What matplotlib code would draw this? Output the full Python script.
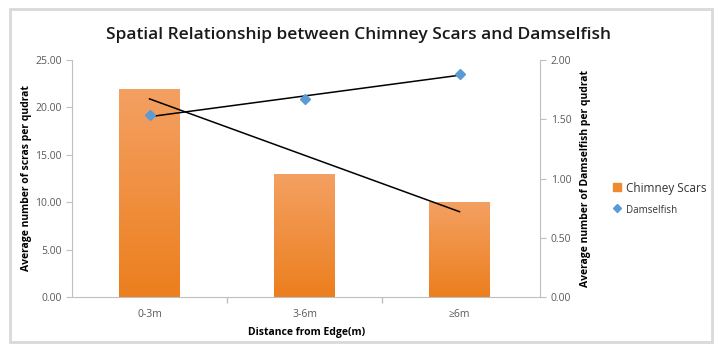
import numpy as np
import matplotlib.pyplot as plt
from matplotlib.patches import Rectangle
from matplotlib.lines import Line2D
from matplotlib.colors import LinearSegmentedColormap

# data
categories = ["0-3m", "3-6m", "\u22656m"]
scars = [21.9, 12.95, 10.0]
damselfish = [1.535, 1.67, 1.885]

x = np.arange(len(categories))

plt.rcParams['font.family'] = ['Open Sans', 'DejaVu Sans']

fig = plt.figure(figsize=(7.18, 3.49), dpi=100)
fig.patches.append(Rectangle((0.014, 0.02), 0.978, 0.955, transform=fig.transFigure,
                             fill=False, edgecolor='#d9d9d9', linewidth=2))

ax = fig.add_axes([0.1003, 0.149, 0.652, 0.679])
ax2 = ax.twinx()

# bars with a vertical gradient
bars = ax.bar(x, scars, width=0.39, color='#f08a30', zorder=1)
grad = np.linspace(0, 1, 100).reshape(-1, 1)
cmap = LinearSegmentedColormap.from_list('o', ['#ec7f1e', '#f4a062'])
for b in bars:
    bx, bw, bh = b.get_x(), b.get_width(), b.get_height()
    im = ax.imshow(grad, cmap=cmap, aspect='auto', origin='lower',
                   extent=(bx, bx + bw, 0, bh), zorder=1)
    im.set_clip_path(b)
    b.set_alpha(0)

# linear trend for scars
p = np.polyfit(x, scars, 1)
ax.plot([x[0], x[-1]], np.polyval(p, [x[0], x[-1]]), color='black', lw=1.1, zorder=3)

# damselfish points and trend
ax2.plot(x, damselfish, linestyle='none', marker='D', markersize=5,
         color='#5b9bd5', zorder=4)
q = np.polyfit(x, damselfish, 1)
ax2.plot([x[0], x[-1]], np.polyval(q, [x[0], x[-1]]), color='black', lw=1.1, zorder=3)

ax.set_xlim(-0.5, 2.52)
ax.set_ylim(0, 25)
ax2.set_ylim(0, 2)
ax.set_yticks(np.arange(0, 26, 5))
ax.set_yticklabels([f"{v:.2f}" for v in np.arange(0, 26, 5)])
ax2.set_yticks(np.arange(0, 2.01, 0.5))
ax2.set_yticklabels([f"{v:.2f}" for v in np.arange(0, 2.01, 0.5)])

ax.set_xticks(x)
ax.set_xticklabels(categories)
ax.set_xticks([0.5, 1.5], minor=True)
ax.tick_params(axis='x', which='major', length=0, pad=9, labelsize=7.5, colors='#595959')
ax.tick_params(axis='x', which='minor', length=4, color='#bfbfbf', width=1)
ax.tick_params(axis='y', length=4, color='#bfbfbf', labelsize=7.5, labelcolor='#595959')
ax2.tick_params(axis='y', length=4, color='#bfbfbf', labelsize=7.5, labelcolor='#595959')

for a in (ax, ax2):
    a.spines['top'].set_visible(False)
    for s in ('left', 'right', 'bottom'):
        a.spines[s].set_color('#bfbfbf')
ax.spines['right'].set_visible(False)
ax2.spines['left'].set_visible(False)
ax2.spines['bottom'].set_visible(False)

ax.set_xlabel("Distance from Edge(m)", fontsize=7.5, fontweight='bold', labelpad=5)
ax.set_ylabel("Average number of scras per qudrat", fontsize=7.5, fontweight='bold', labelpad=2)
ax2.set_ylabel("Average number of Damselfish per qudrat", fontsize=7.5, fontweight='bold', labelpad=6)

fig.text(0.5, 0.9, "Spatial Relationship between Chimney Scars and Damselfish",
         ha='center', va='center', fontsize=12.5, fontweight='semibold', color='#1a1a1a')

handles = [Line2D([], [], linestyle='none', marker='s', markersize=6, color='#f08a30'),
           Line2D([], [], linestyle='none', marker='D', markersize=4, color='#5b9bd5')]
leg = fig.legend(handles, ["Chimney Scars", "Damselfish"], loc='center left',
                 bbox_to_anchor=(0.835, 0.43), frameon=False, handlelength=0.7,
                 handletextpad=0.3, labelspacing=0.6)
leg.get_texts()[0].set_fontsize(8.5)
leg.get_texts()[1].set_fontsize(7)
for t in leg.get_texts():
    t.set_color('#333333')

fig.savefig("out.png", dpi=100)
